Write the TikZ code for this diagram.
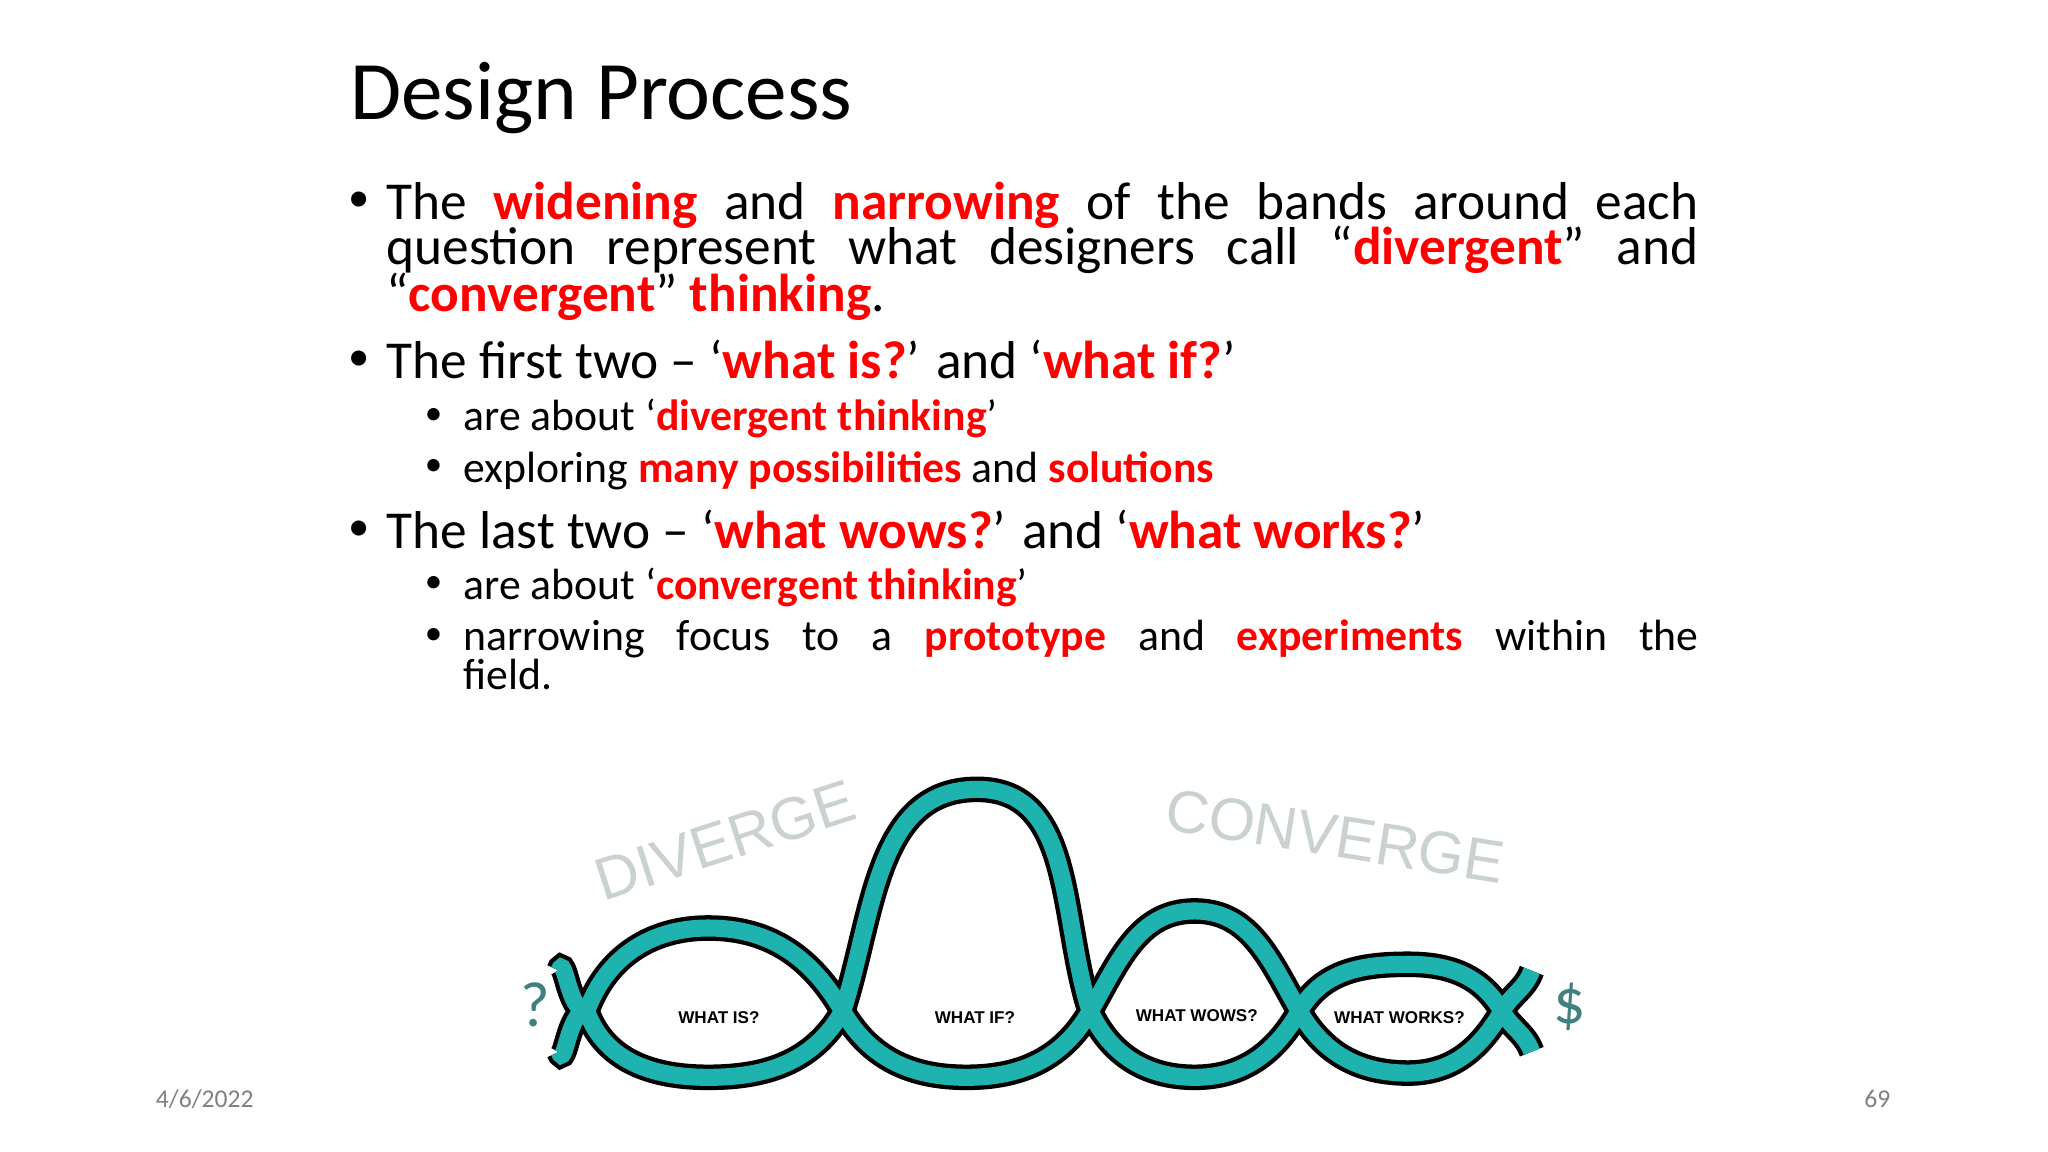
\documentclass[tikz,border=0pt]{standalone}
\usepackage{fontspec}
\setmainfont{Carlito}
\newfontfamily\lightfont{Carlito}
\newfontfamily\sansb{Liberation Sans}
\definecolor{redx}{HTML}{FF0000}
\definecolor{teal1}{HTML}{1FB3AF}
\definecolor{ghost}{HTML}{C9D2CE}
\newcommand{\R}[1]{\textcolor{redx}{\textbf{#1}}}
\newcommand{\bul}{\raisebox{0.15em}{\scalebox{0.8}{•}}}
\begin{document}
\begin{tikzpicture}[x=1pt,y=-1pt,
  txt/.style={anchor=base west,inner sep=0pt,font=\fontsize{25}{25}\selectfont},
  stxt/.style={anchor=base west,inner sep=0pt,font=\fontsize{20.5}{20.5}\selectfont},
  outer/.style={line width=12pt,black,line cap=butt},
  inner/.style={line width=8pt,teal1,line cap=butt},
  lbl/.style={font=\sansb\bfseries\fontsize{8}{8}\selectfont,inner sep=0pt}]
\useasboundingbox (0,0) rectangle (960,540);
\fill[white] (0,0) rectangle (960,540);
\node[anchor=base west,inner sep=0pt,font=\lightfont\fontsize{39}{39}\selectfont] (title) at (164,56) {Design Process};
\node[txt] (b1) at (163,103) {\bul};
\node[txt] (l1) at (181,103) {\makebox[615pt][s]{The \R{widening} and \R{narrowing} of the bands around each}};
\node[txt] (l2) at (181,124) {\makebox[615pt][s]{question represent what designers call “\R{divergent}” and}};
\node[txt] (l3) at (181,146) {“\R{convergent}” \R{thinking}.};
\node[txt] (b2) at (163,177.5) {\bul};
\node[txt] (l4) at (181,177.5) {The first two – ‘\R{what is?}’ and ‘\R{what if?}’};
\node[stxt] (s1b) at (199,202) {\bul};
\node[stxt] (s1) at (217,202) {are about ‘\R{divergent thinking}’};
\node[stxt] (s2b) at (199,226) {\bul};
\node[stxt] (s2) at (217,226) {exploring \R{many possibilities} and \R{solutions}};
\node[txt] (b3) at (163,257) {\bul};
\node[txt] (l5) at (181,257) {The last two – ‘\R{what wows?}’ and ‘\R{what works?}’};
\node[stxt] (s3b) at (199,281) {\bul};
\node[stxt] (s3) at (217,281) {are about ‘\R{convergent thinking}’};
\node[stxt] (s4b) at (199,305) {\bul};
\node[stxt] (s4) at (217,305) {\makebox[579pt][s]{narrowing focus to a \R{prototype} and \R{experiments} within the}};
\node[stxt] (s5) at (217,323) {field.};
\node[font=\sansb\fontsize{28}{28}\selectfont,text=ghost,rotate=18] (div) at (340,394) {DIVERGE};
\node[font=\sansb\fontsize{28}{28}\selectfont,text=ghost,rotate=-9] (conv) at (626,392) {CONVERGE};
\foreach \st in {outer,inner}{
\draw[\st] (262,493) to[out=-70,in=180] (275,474)
  to[out=70,in=180] (332,435) to[out=0,in=120] (395,474)
  to[out=-60,in=180] (453,505) to[out=0,in=-120] (511,474)
  to[out=60,in=180] (560,427) to[out=0,in=120] (609,474)
  to[out=-60,in=180] (660,503) to[out=0,in=-120] (704,474)
  to[out=60,in=-110] (718,455);
\draw[\st] (262,455) to[out=70,in=180] (275,474)
  to[out=-70,in=180] (332,505) to[out=0,in=-120] (395,474)
  to[out=72,in=180] (458,370) to[out=0,in=108] (511,474)
  to[out=-65,in=180] (560,505) to[out=0,in=-120] (609,474)
  to[out=60,in=180] (660,452) to[out=0,in=120] (704,474)
  to[out=-60,in=110] (718,493);
}
\node[lbl] (w1) at (337,477) {WHAT IS?};
\node[lbl] (w2) at (457,477) {WHAT IF?};
\node[lbl] (w3) at (561,476) {WHAT WOWS?};
\node[lbl] (w4) at (656,477) {WHAT WORKS?};
\node[font=\fontsize{30}{30}\selectfont,text=teal!50!gray] (q) at (251,471) {?};
\node[font=\fontsize{30}{30}\selectfont,text=teal!50!gray] (d) at (736,472) {\$};
\node[font=\fontsize{12}{12}\selectfont,text=gray] (date) at (96,515) {4/6/2022};
\node[font=\fontsize{12}{12}\selectfont,text=gray] (pg) at (880,515) {69};
\end{tikzpicture}
\end{document}
